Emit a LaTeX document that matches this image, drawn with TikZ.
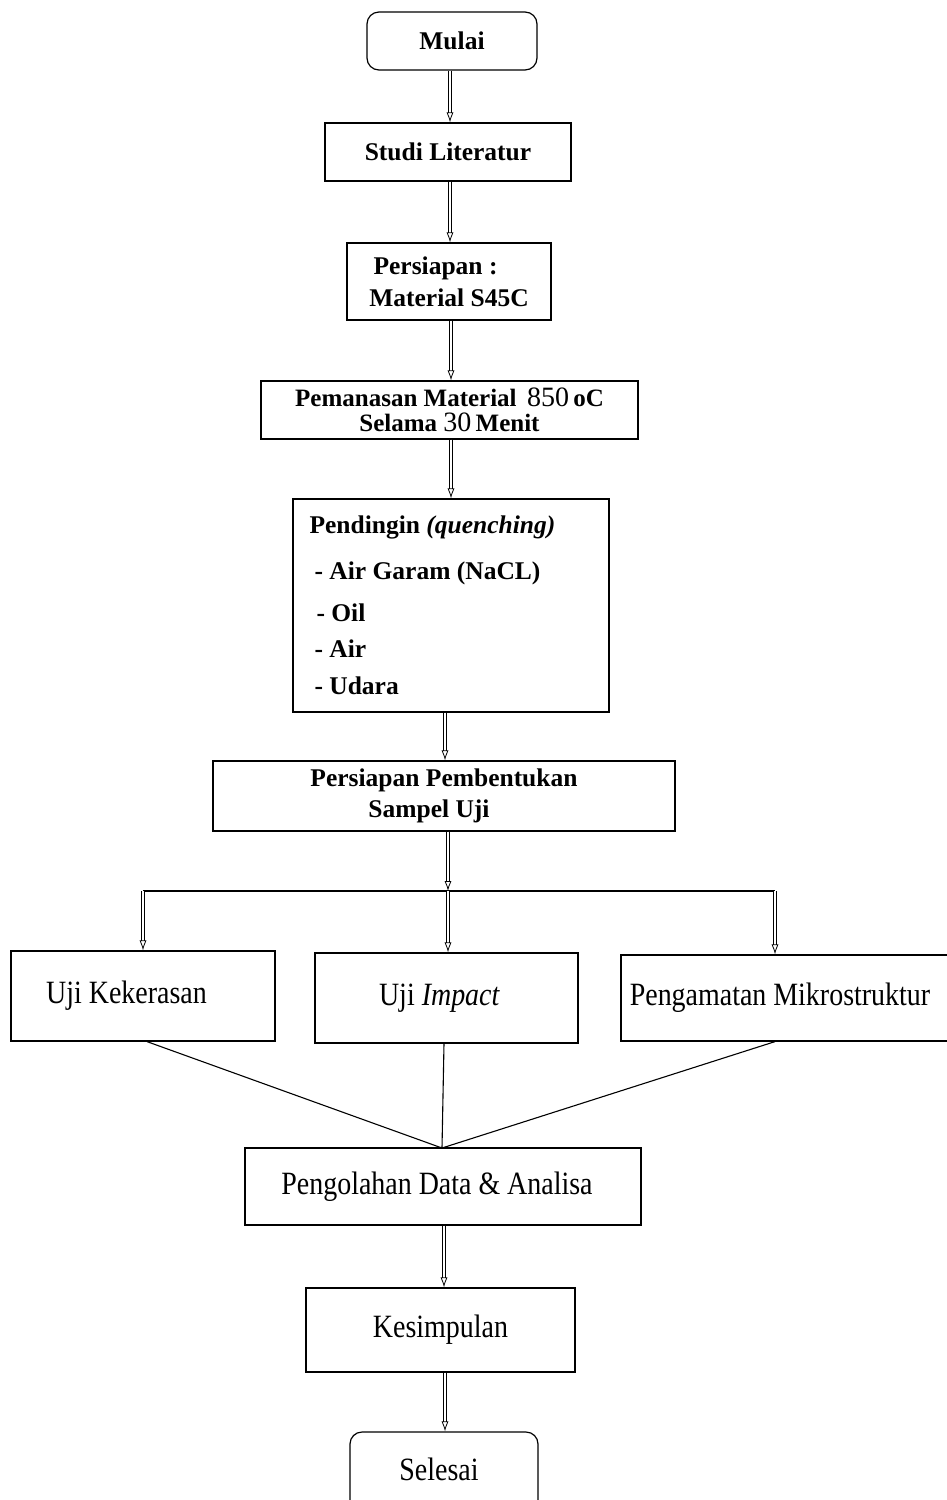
\documentclass[tikz,border=0pt]{standalone}
\usepackage{fontspec}
\setmainfont{Liberation Serif}
\newfontfamily\cond[FakeStretch=0.86]{Liberation Serif}
\usetikzlibrary{arrows.meta}
\begin{document}
\begin{tikzpicture}[x=1pt,y=-1pt,
  box/.style={draw, line width=1.2pt, inner sep=0pt},
  rbox/.style={box, rounded corners=12pt},
  arr/.style={line width=0.8pt, double, double distance=2.4pt, -{Latex[open,length=10pt,width=7pt]}},
  ln/.style={line width=1.1pt},
  bt/.style={font=\fontsize{25.5}{28}\selectfont\bfseries},
  ct/.style={font=\fontsize{32.5}{36}\selectfont\cond}]
\useasboundingbox (0,0) rectangle (946,1500);
\fill[white] (0,0) rectangle (946,1500);
% boxes
\node[rbox, minimum width=170pt, minimum height=58pt, bt] (mulai) at (452,41) {Mulai};
\node[box, minimum width=246pt, minimum height=58pt, bt] (studi) at (448,152) {Studi Literatur};
\node[box, minimum width=204pt, minimum height=77pt, bt, align=left] (persiapan) at (449,281.5) {\,Persiapan :\\[4pt]Material S45C};
\node[box, minimum width=377pt, minimum height=58pt, bt, align=center, font=\fontsize{25}{25}\selectfont\bfseries] (pemanasan) at (449.5,410)
  {Pemanasan Material \,{\mdseries\fontsize{28}{25}\selectfont 850}\,oC\\Selama {\mdseries\fontsize{28}{25}\selectfont 30}\,Menit};
\node[box, minimum width=316pt, minimum height=213pt] (pendingin) at (451,605.5) {};
\node[bt, anchor=west] (pd0) at (306,527) {Pendingin \textit{(quenching)}};
\node[bt, anchor=west] (pd1) at (311,573) {- Air Garam (NaCL)};
\node[bt, anchor=west] (pd2) at (313,613) {- Oil};
\node[bt, anchor=west] (pd3) at (311,649) {- Air};
\node[bt, anchor=west] (pd4) at (311,686) {- Udara};
\node[box, minimum width=462pt, minimum height=70pt, bt, align=center] (sampel) at (444,796)
  {Persiapan Pembentukan\\[3pt]\hspace*{-30pt}Sampel Uji};
\node[box, minimum width=264pt, minimum height=90pt, ct] (keras) at (143,996) {\raisebox{-3pt}{\hspace*{-33pt}Uji Kekerasan}};
\node[box, minimum width=263pt, minimum height=90pt, ct] (impact) at (446.5,998) {\raisebox{3pt}{\hspace*{-14pt}Uji \textit{Impact}}};
\node[box, minimum width=330pt, minimum height=86pt, ct] (mikro) at (786,998) {\hspace*{-12pt}Pengamatan Mikrostruktur};
\node[box, minimum width=396pt, minimum height=77pt, ct] (olah) at (443,1186.5) {\hspace*{-12pt}Pengolahan Data \& Analisa};
\node[box, minimum width=269pt, minimum height=84pt, ct] (simpul) at (440.5,1330) {\raisebox{3pt}{Kesimpulan}};
\node[rbox, minimum width=188pt, minimum height=80pt, ct] (selesai) at (444,1472) {\raisebox{6pt}{\hspace*{-10pt}Selesai}};
% connectors
\draw[arr] (mulai.south -| 450,0) -- (studi.north -| 450,0);
\draw[arr] (studi.south -| 450,0) -- (persiapan.north -| 450,0);
\draw[arr] (persiapan.south -| 451,0) -- (pemanasan.north -| 451,0);
\draw[arr] (pemanasan.south -| 451,0) -- (pendingin.north -| 451,0);
\draw[arr] (pendingin.south -| 445,0) -- (sampel.north -| 445,0);
\coordinate (bm) at (448,891);
\coordinate (bl) at (143,891);
\coordinate (br) at (775,891);
\draw[arr] (sampel.south -| 448,0) -- (bm);
\draw[ln] (bl) -- (br);
\draw[arr] (bl) -- (keras.north -| bl);
\draw[arr] (bm) -- (impact.north -| bm);
\draw[arr] (br) -- (mikro.north -| br);
\coordinate (join) at (442,1148);
\draw[ln] (keras.south -| 147,0) -- (join);
\draw[ln] (impact.south -| 444,0) -- (join);
\draw[ln] (mikro.south -| 775,0) -- (join);
\draw[arr] (olah.south -| 444,0) -- (simpul.north -| 444,0);
\draw[arr] (simpul.south -| 445,0) -- (selesai.north -| 445,0);
\end{tikzpicture}
\end{document}
